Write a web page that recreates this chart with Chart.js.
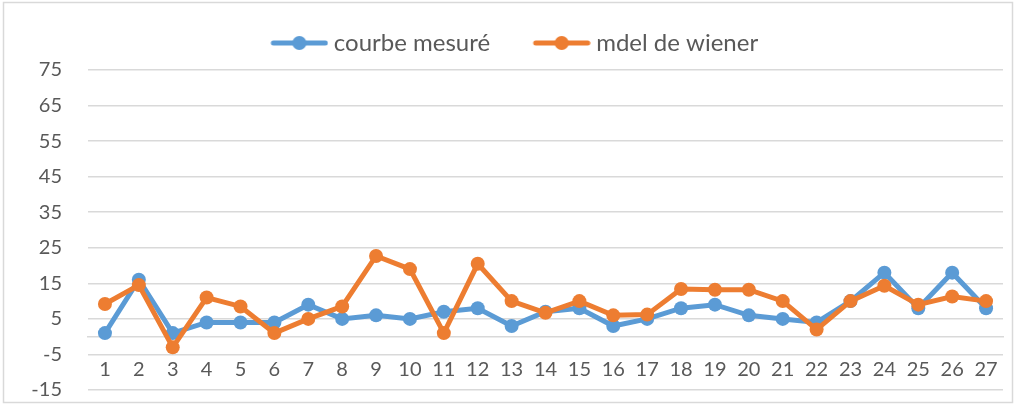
<!DOCTYPE html>
<html>
<head>
<meta charset="utf-8">
<script src="https://cdn.jsdelivr.net/npm/chart.js@4/dist/chart.umd.min.js"></script>
<style>
    body { margin: 0; background: #fff; }
    #wrap { width: 1027px; height: 405px; }
</style>
</head>
<body>
<div id="wrap"><canvas id="chart" width="1027" height="405"></canvas></div>
<script>
let categories = ['1', '2', '3', '4', '5', '6', '7', '8', '9', '10', '11', '12', '13', '14',
    '15', '16', '17', '18', '19', '20', '21', '22', '23', '24', '25', '26', '27'];
let mesure = [1, 16, 1, 4, 4, 4, 9, 5, 6, 5, 7, 8, 3, 7, 8, 3, 5, 8, 9, 6, 5, 4, 10, 18, 8, 18, 8];
let wiener = [9.2, 14.5, -3, 11, 8.5, 1, 5, 8.5, 22.7, 19, 1, 20.5, 10, 6.7, 10, 6, 6.2, 13.4, 13.2, 13.2, 10, 2, 10, 14.3, 9, 11.3, 10];
let seriesNames = ['courbe mesuré', 'mdel de wiener'];
let yMin = -15, yMax = 75, yStep = 10;

const BLUE = '#5B9BD5';
const ORANGE = '#ED7D31';
const GRID = '#D9D9D9';
const TEXT = '#595959';
const FONT = 'Lato';

// legend sample: line with a dot, drawn in the right part of the image
function legendMarker(color) {
    let c = document.createElement('canvas');
    c.width = 76;
    c.height = 16;
    let ctx = c.getContext('2d');
    ctx.strokeStyle = color;
    ctx.lineWidth = 5;
    ctx.lineCap = 'round';
    ctx.beginPath();
    ctx.moveTo(21, 8);
    ctx.lineTo(73, 8);
    ctx.stroke();
    ctx.fillStyle = color;
    ctx.beginPath();
    ctx.arc(47, 8, 7, 0, Math.PI * 2);
    ctx.fill();
    return c;
}

let chartBorder = {
    id: 'chartBorder',
    afterDraw(chart) {
        let ctx = chart.ctx;
        ctx.save();
        ctx.strokeStyle = GRID;
        ctx.lineWidth = 1.5;
        ctx.strokeRect(3.5, 2.5, 1009, 400);
        ctx.restore();
    }
};

let legendHeight = {
    id: 'legendHeight',
    beforeInit(chart) {
        let fit = chart.legend.fit;
        chart.legend.fit = function () {
            fit.bind(chart.legend)();
            this.height = 70;
        };
    }
};

new Chart(document.getElementById('chart'), {
    type: 'line',
    data: {
        labels: categories,
        datasets: [
            {
                label: seriesNames[0],
                data: mesure,
                borderColor: BLUE,
                backgroundColor: BLUE,
                borderWidth: 5,
                pointRadius: 7,
                pointBorderWidth: 0,
                tension: 0,
                order: 1
            },
            {
                label: seriesNames[1],
                data: wiener,
                borderColor: ORANGE,
                backgroundColor: ORANGE,
                borderWidth: 5,
                pointRadius: 7,
                pointBorderWidth: 0,
                tension: 0,
                order: 0
            }]
    },
    options: {
        responsive: false,
        animation: false,
        layout: {
            padding: {top: 0, left: 14, right: 24, bottom: 15}
        },
        plugins: {
            tooltip: {enabled: false},
            legend: {
                position: 'top',
                labels: {
                    usePointStyle: true,
                    pointStyleWidth: 63,
                    padding: 31,
                    color: TEXT,
                    font: {family: FONT, size: 24},
                    sort: (a, b) => a.datasetIndex - b.datasetIndex,
                    generateLabels(chart) {
                        let items = Chart.defaults.plugins.legend.labels.generateLabels(chart);
                        items.forEach(item => {
                            item.pointStyle = legendMarker(item.datasetIndex === 0 ? BLUE : ORANGE);
                        });
                        return items;
                    }
                }
            }
        },
        scales: {
            x: {
                position: {y: 0},
                offset: true,
                afterFit: s => { s.height = 0; },
                grid: {display: false},
                border: {display: true, color: GRID, width: 1.5},
                ticks: {
                    color: TEXT,
                    padding: 13,
                    maxRotation: 0,
                    autoSkip: false,
                    font: {family: FONT, size: 20}
                }
            },
            y: {
                min: yMin,
                max: yMax,
                afterFit: s => {
                    s.width = 74;
                    s.paddingTop = 12;
                    s.paddingBottom = 12;
                },
                border: {display: false},
                grid: {color: GRID, lineWidth: 1.5, drawTicks: false},
                ticks: {
                    stepSize: yStep,
                    padding: 26,
                    color: TEXT,
                    font: {family: FONT, size: 20}
                }
            }
        }
    },
    plugins: [chartBorder, legendHeight]
});
</script>
</body>
</html>
